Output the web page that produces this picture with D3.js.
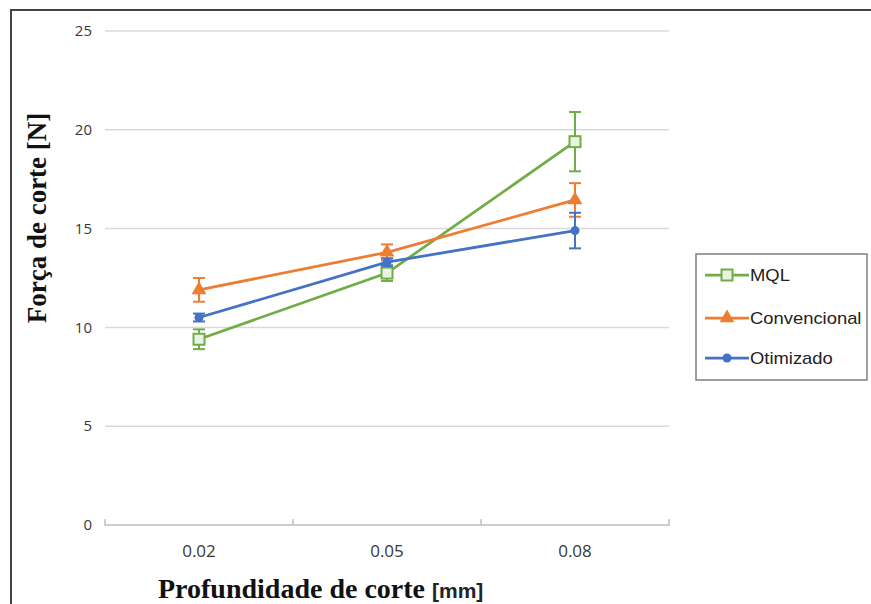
<!DOCTYPE html>
<html>
<head>
<meta charset="utf-8">
<script src="https://cdn.jsdelivr.net/npm/d3@7"></script>
<style>
  html, body { margin: 0; padding: 0; background: #fff; }
  svg { display: block; }
</style>
</head>
<body>
<svg id="chart" width="871" height="604"></svg>
<script>
// Cutting depth categories (mm)
const depths = ["0.02", "0.05", "0.08"];
const yTicks = [0, 5, 10, 15, 20, 25];

// Mean cutting force [N] per lubrication condition
const mqlValues = [9.4, 12.75, 19.4];
const convValues = [11.9, 13.8, 16.45];
const otimValues = [10.5, 13.3, 14.9];

// Error bar half-widths [N]
const mqlErrors = [0.5, 0.4, 1.5];
const convErrors = [0.6, 0.4, 0.85];
const otimErrors = [0.2, 0.2, 0.9];

const seriesNames = ["MQL", "Convencional", "Otimizado"];
const seriesColors = ["#70AD47", "#ED7D31", "#4472C4"];
const seriesShapes = ["square", "triangle", "circle"];

const series = seriesNames.map((name, i) => ({
  name,
  color: seriesColors[i],
  shape: seriesShapes[i],
  values: [mqlValues, convValues, otimValues][i],
  errors: [mqlErrors, convErrors, otimErrors][i]
}));

const svg = d3.select("#chart");

// Outer frame
svg.append("rect")
  .attr("x", 11).attr("y", 10)
  .attr("width", 900).attr("height", 700)
  .attr("fill", "none").attr("stroke", "#444").attr("stroke-width", 2);

const x = d3.scaleBand().domain(depths).range([105, 669]);
const y = d3.scaleLinear().domain([0, 25]).range([525, 31]);

const tickFont = "'Open Sans', sans-serif";
const titleFont = "'Liberation Serif', 'DejaVu Serif', serif";

// Gridlines
svg.append("g").selectAll("line")
  .data(yTicks.filter(t => t > 0))
  .join("line")
  .attr("x1", 105).attr("x2", 669)
  .attr("y1", d => y(d)).attr("y2", d => y(d))
  .attr("stroke", "#d9d9d9").attr("stroke-width", 1.5);

// Y tick labels
svg.append("g").selectAll("text")
  .data(yTicks)
  .join("text")
  .attr("x", 92).attr("y", d => y(d))
  .attr("dy", "0.35em")
  .attr("text-anchor", "end")
  .attr("font-family", tickFont)
  .attr("font-size", 15)
  .attr("fill", "#383838")
  .text(d => d);

// Category axis
const xAxis = d3.axisBottom(x).tickSize(0).tickPadding(20);
const gx = svg.append("g").attr("transform", `translate(0,${y(0)})`).call(xAxis);
gx.select(".domain").attr("stroke", "#bfbfbf").attr("stroke-width", 1.5)
  .attr("d", `M105,-6V0H669V-6`);
gx.selectAll(".tick text")
  .attr("font-family", tickFont).attr("font-size", 17).attr("fill", "#383838");
// Category boundary tick marks
gx.append("g").selectAll("line")
  .data(depths.slice(1))
  .join("line")
  .attr("x1", d => x(d)).attr("x2", d => x(d))
  .attr("y1", 0).attr("y2", -6)
  .attr("stroke", "#bfbfbf").attr("stroke-width", 1.5);

const cx = d => x(d) + x.bandwidth() / 2;
const line = d3.line().x(d => cx(d.depth)).y(d => y(d.value));

function drawMarker(g, shape, color) {
  if (shape === "square") {
    g.append("rect").attr("x", -5.5).attr("y", -5.5).attr("width", 11).attr("height", 11)
      .attr("fill", "#e9f3e3").attr("stroke", color).attr("stroke-width", 2);
  } else if (shape === "triangle") {
    g.append("path").attr("d", d3.symbol(d3.symbolTriangle, 95)())
      .attr("fill", color);
  } else {
    g.append("circle").attr("r", 4.5).attr("fill", color);
  }
}

// Series: lines, error bars, markers
series.forEach(s => {
  const pts = depths.map((d, i) => ({ depth: d, value: s.values[i], err: s.errors[i] }));
  const g = svg.append("g");
  g.append("path").datum(pts).attr("d", line)
    .attr("fill", "none").attr("stroke", s.color).attr("stroke-width", 2.75);

  const eb = g.append("g").selectAll("g").data(pts).join("g");
  eb.append("line")
    .attr("x1", d => cx(d.depth)).attr("x2", d => cx(d.depth))
    .attr("y1", d => y(d.value - d.err)).attr("y2", d => y(d.value + d.err))
    .attr("stroke", s.color).attr("stroke-width", 2);
  eb.append("line")
    .attr("x1", d => cx(d.depth) - 6).attr("x2", d => cx(d.depth) + 6)
    .attr("y1", d => y(d.value + d.err)).attr("y2", d => y(d.value + d.err))
    .attr("stroke", s.color).attr("stroke-width", 2);
  eb.append("line")
    .attr("x1", d => cx(d.depth) - 6).attr("x2", d => cx(d.depth) + 6)
    .attr("y1", d => y(d.value - d.err)).attr("y2", d => y(d.value - d.err))
    .attr("stroke", s.color).attr("stroke-width", 2);

  pts.forEach(p => {
    const m = g.append("g").attr("transform", `translate(${cx(p.depth)},${y(p.value)})`);
    drawMarker(m, s.shape, s.color);
  });
});

// Axis titles
svg.append("text")
  .attr("transform", "translate(46,218) rotate(-90)")
  .attr("text-anchor", "middle")
  .attr("font-family", titleFont)
  .attr("font-weight", "bold").attr("font-size", 27)
  .attr("fill", "#111")
  .text("Força de corte [N]");

const xt = svg.append("text")
  .attr("x", 158).attr("y", 598)
  .attr("font-family", titleFont)
  .attr("font-weight", "bold").attr("font-size", 28)
  .attr("fill", "#111");
xt.append("tspan").text("Profundidade de corte ");
xt.append("tspan")
  .attr("font-family", "'Liberation Sans', Arial, sans-serif")
  .attr("font-weight", "bold").attr("font-size", 21)
  .attr("fill", "#222")
  .text("[mm]");

// Legend
const legend = svg.append("g");
legend.append("rect")
  .attr("x", 696).attr("y", 254).attr("width", 171).attr("height", 126)
  .attr("fill", "#fff").attr("stroke", "#7f7f7f").attr("stroke-width", 1.5);
const legY = [275, 318, 358];
series.forEach((s, i) => {
  const row = legend.append("g").attr("transform", `translate(0,${legY[i]})`);
  row.append("line").attr("x1", 705).attr("x2", 749).attr("y1", 0).attr("y2", 0)
    .attr("stroke", s.color).attr("stroke-width", 2.75);
  const m = row.append("g").attr("transform", "translate(727,0)");
  drawMarker(m, s.shape, s.color);
  row.append("text")
    .attr("transform", "translate(750,0) scale(1.15,1)")
    .attr("dy", "0.35em")
    .attr("font-family", "'Liberation Sans', Arial, sans-serif")
    .attr("font-size", 16).attr("fill", "#222")
    .text(s.name);
});
</script>
</body>
</html>
